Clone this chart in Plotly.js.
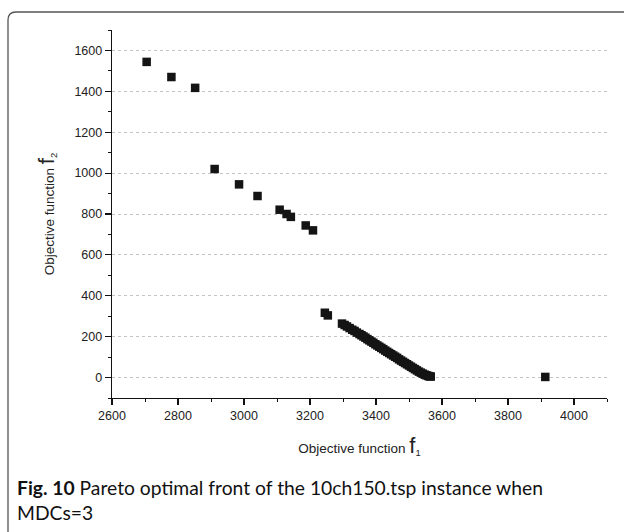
<!DOCTYPE html>
<html>
<head>
<meta charset="utf-8">
<script src="https://cdn.plot.ly/plotly-3.0.1.min.js"></script>
<style>
html,body{margin:0;padding:0;background:#fff;overflow:hidden;}
#chart{width:624px;height:532px;}
</style>
</head>
<body>
<div id="chart"></div>
<script>
// Pareto front points (f1, f2)
const f1 = [2705, 2780, 2852, 2911, 2985, 3041, 3108, 3129, 3142, 3187, 3209,
  3245, 3254,
  3297, 3305, 3312, 3320, 3328, 3335, 3342, 3350, 3356, 3362, 3368, 3374, 3380, 3386, 3392,
  3398, 3404, 3410, 3416, 3422, 3428, 3434, 3440, 3446, 3452, 3458, 3464, 3470, 3476, 3482,
  3488, 3494, 3500, 3506, 3512, 3518, 3524, 3530, 3536, 3542, 3548, 3553, 3558, 3562, 3566,
  3913];
const f2 = [1544, 1470, 1417, 1020, 945, 888, 821, 800, 786, 744, 720,
  317, 304,
  264, 257, 250, 242, 234, 228, 220, 213, 207, 201, 195, 188, 182, 176, 170,
  163, 157, 151, 145, 139, 132, 126, 120, 114, 108, 102, 96, 89, 83, 77,
  71, 65, 59, 53, 47, 41, 35, 29, 24, 19, 14, 11, 8, 6, 5,
  3];

const xTickVals = [2600, 2800, 3000, 3200, 3400, 3600, 3800, 4000];
const yTickVals = [0, 200, 400, 600, 800, 1000, 1200, 1400, 1600];

const captionBold = "Fig. 10";
const captionLine1 = "Pareto optimal front of the 10ch150.tsp instance when";
const captionLine2 = "MDCs=3";

const L = 112, R = 607, T = 30, B = 398;
const W = R - L, H = B - T;
const px = v => (v - L) / W;
const py = v => (B - v) / H;

const sans = "Liberation Sans, Arial, sans-serif";
const tickFont = {family: sans, size: 12.5, color: "#222"};
const titleFont = {family: sans, size: 13.5, color: "#222"};

const trace = {
  x: f1, y: f2, type: "scatter", mode: "markers",
  marker: {symbol: "square", size: 8.5, color: "#141414"},
  hoverinfo: "x+y", showlegend: false
};

// rounded frame
const rx = 8 / W, ry = 8 / H;
const x0 = px(8), y1 = py(12);
const framePath = `M ${x0},${py(560)} L ${x0},${y1 - ry} Q ${x0},${y1} ${x0 + rx},${y1} L ${px(640)},${y1}`;

const layout = {
  width: 624, height: 532,
  margin: {l: L, r: 624 - R, t: T, b: 532 - B},
  paper_bgcolor: "#fff", plot_bgcolor: "#fff",
  font: tickFont,
  xaxis: {
    range: [2600, 4100], tickvals: xTickVals,
    showline: true, linecolor: "#111", linewidth: 1.3,
    ticks: "outside", ticklen: 6, tickwidth: 1.2, tickcolor: "#111",
    minor: {ticks: "outside", ticklen: 3, tickwidth: 1, tickcolor: "#111", dtick: 100, tick0: 2600, showgrid: false},
    showgrid: false, zeroline: false, tickfont: tickFont, mirror: false,
    title: {text: "Objective function <span style='font-size:22px'>f</span><sub>1</sub>", font: titleFont, standoff: 21}
  },
  yaxis: {
    range: [-100, 1700], tickvals: yTickVals,
    showline: true, linecolor: "#111", linewidth: 1.3,
    ticks: "outside", ticklen: 6, tickwidth: 1.2, tickcolor: "#111",
    minor: {ticks: "outside", ticklen: 3, tickwidth: 1, tickcolor: "#111", dtick: 100, tick0: 0, showgrid: false},
    showgrid: true, gridcolor: "#c4c4c4", griddash: "dot", gridwidth: 1,
    zeroline: false, tickfont: tickFont,
    title: {text: "Objective function <span style='font-size:22px'>f</span><sub>2</sub>", font: titleFont, standoff: 16}
  },
  shapes: [{type: "path", xref: "paper", yref: "paper", path: framePath,
    line: {color: "#555", width: 1.3}, layer: "below"}],
  annotations: [{
    xref: "paper", yref: "paper", x: px(15), y: py(474), xanchor: "left", yanchor: "top",
    align: "left", showarrow: false,
    text: "<b>" + captionBold + "</b> " + captionLine1 + "<br>" + captionLine2,
    font: {family: "Lato, 'Noto Sans', sans-serif", size: 19.3, color: "#111"}
  }]
};

Plotly.newPlot("chart", [trace], layout, {staticPlot: true, displayModeBar: false});
</script>
</body>
</html>
